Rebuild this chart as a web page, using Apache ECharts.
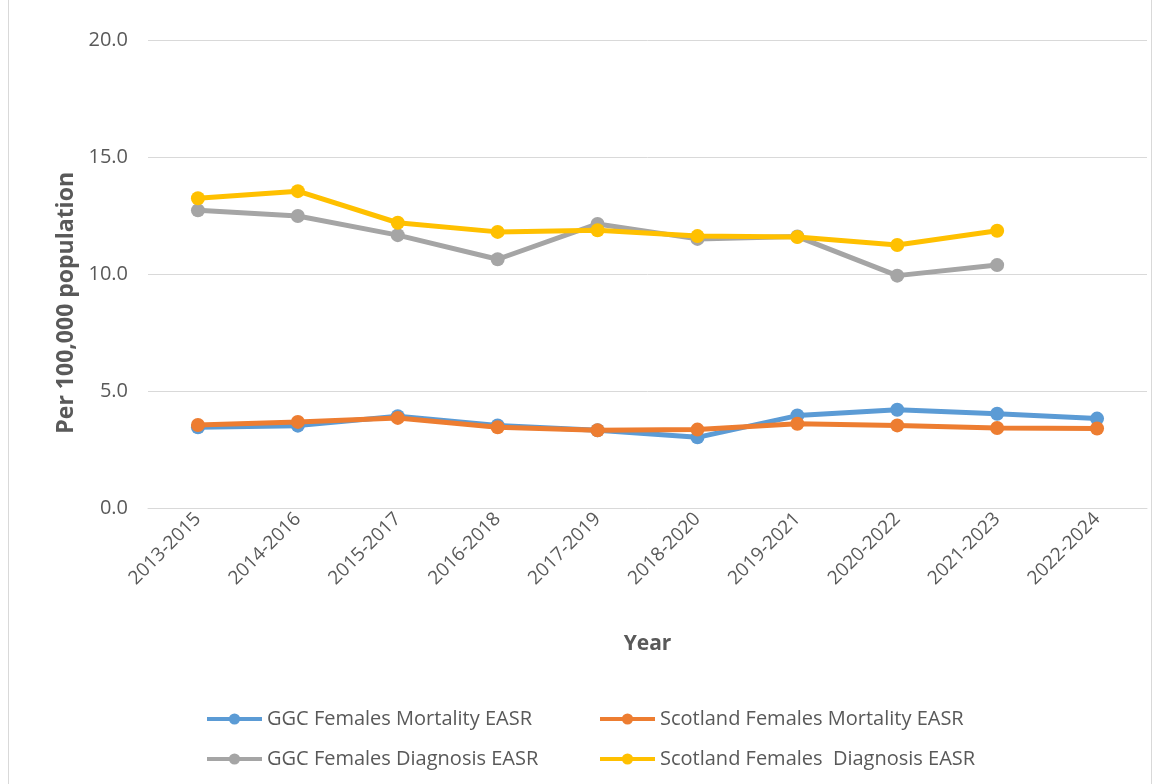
<!DOCTYPE html>
<html>
<head>
<meta charset="utf-8">
<script src="https://cdn.jsdelivr.net/npm/echarts@6/dist/echarts.min.js"></script>
<style>
  html, body { margin: 0; padding: 0; background: #fff; }
  #frame { position: absolute; left: 8px; top: -1px; width: 1144px; height: 790px; border: 1px solid #d9d9d9; box-sizing: border-box; }
  #chart { position: absolute; left: 0; top: 0; width: 1162px; height: 784px; }
</style>
</head>
<body>
<div id="frame"></div>
<div id="chart"></div>
<script>
// Three-year rolling periods
const years = ['2013-2015', '2014-2016', '2015-2017', '2016-2018', '2017-2019',
               '2018-2020', '2019-2021', '2020-2022', '2021-2023', '2022-2024'];

// European age-standardised rates per 100,000 females
const ggcMortality      = [3.45, 3.52, 3.92, 3.53, 3.32, 3.02, 3.95, 4.20, 4.03, 3.82];
const scotlandMortality = [3.55, 3.68, 3.85, 3.45, 3.32, 3.35, 3.60, 3.53, 3.42, 3.40];
const ggcDiagnosis      = [12.72, 12.48, 11.66, 10.63, 12.14, 11.50, 11.60, 9.93, 10.38];
const scotlandDiagnosis = [13.24, 13.54, 12.19, 11.80, 11.87, 11.62, 11.58, 11.24, 11.85];

const seriesNames = ['GGC Females Mortality EASR', 'Scotland Females Mortality EASR',
                     'GGC Females Diagnosis EASR', 'Scotland Females  Diagnosis EASR'];
const colors = ['#5B9BD5', '#ED7D31', '#A5A5A5', '#FFC000'];
const values = [ggcMortality, scotlandMortality, ggcDiagnosis, scotlandDiagnosis];

const FONT = '"Open Sans", "Noto Sans", sans-serif';
const TEXT = '#595959';

const chart = echarts.init(document.getElementById('chart'), null, { renderer: 'canvas' });

const legendText = { color: TEXT, fontSize: 20, fontFamily: FONT, lineHeight: 22 };

chart.setOption({
  animation: false,
  color: colors,
  textStyle: { fontFamily: FONT },
  grid: { left: 148, right: 15, top: 40, bottom: 276, containLabel: false },
  xAxis: {
    type: 'category',
    data: years,
    boundaryGap: true,
    axisLine: { show: true, lineStyle: { color: '#d9d9d9', width: 1 } },
    axisTick: { show: false },
    axisLabel: { rotate: 45, color: TEXT, fontSize: 19, fontFamily: FONT, margin: 8, interval: 0 },
    name: 'Year',
    nameLocation: 'middle',
    nameGap: 126,
    nameTextStyle: { color: TEXT, fontSize: 21, fontWeight: 'bold', fontFamily: FONT }
  },
  yAxis: {
    type: 'value',
    min: 0, max: 20, interval: 5,
    axisLine: { show: false },
    axisTick: { show: false },
    splitLine: { lineStyle: { color: '#d9d9d9', width: 1 } },
    axisLabel: { color: TEXT, fontSize: 20, fontFamily: FONT, margin: 20,
                 formatter: v => v.toFixed(1) }
  },
  graphic: [{
    type: 'text',
    left: 55, top: 172,
    rotation: Math.PI / 2,
    style: { text: 'Per 100,000 population', fill: TEXT, fontSize: 23, fontWeight: 'bold',
             fontFamily: FONT }
  }],
  legend: [
    { data: [seriesNames[0], seriesNames[2]], orient: 'vertical', left: 200, top: 703,
      itemWidth: 55, itemHeight: 14, itemGap: 18, textStyle: legendText,
      lineStyle: { width: 4 } },
    { data: [seriesNames[1], seriesNames[3]], orient: 'vertical', left: 593, top: 703,
      itemWidth: 55, itemHeight: 14, itemGap: 18, textStyle: legendText,
      lineStyle: { width: 4 } }
  ],
  series: values.map((d, i) => ({
    name: seriesNames[i],
    type: 'line',
    data: d,
    symbol: 'circle',
    symbolSize: 14,
    lineStyle: { width: 5, color: colors[i] },
    itemStyle: { color: colors[i] },
    z: i === 1 ? 3 : (i === 0 ? 2 : (i === 3 ? 5 : 4))
  }))
});
</script>
</body>
</html>
